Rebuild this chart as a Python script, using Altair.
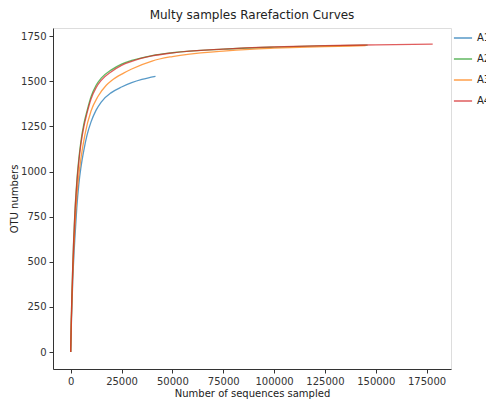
import altair as alt
import pandas as pd

samples = ["A1", "A2", "A3", "A4"]
colors = ["#1f77b4", "#2ca02c", "#ff7f0e", "#d62728"]

a1_x = [0, 250, 500, 1000, 2000, 3000, 4000, 5000, 6500, 8000, 10000, 12500, 15000, 20000, 25000, 30000, 35000, 41700]
a1_y = [0, 120, 220, 390, 620, 800, 930, 1020, 1120, 1200, 1275, 1340, 1385, 1437, 1468, 1492, 1510, 1527]

a2_x = [0, 250, 500, 1000, 2000, 3000, 4000, 5000, 6500, 8000, 10000, 12500, 15000, 20000, 25000, 30000, 40000, 50000, 75000, 100000, 125000, 146000]
a2_y = [0, 155, 280, 475, 760, 945, 1070, 1165, 1265, 1335, 1415, 1478, 1517, 1563, 1595, 1615, 1642, 1658, 1678, 1689, 1696, 1700]

a3_x = [0, 250, 500, 1000, 2000, 3000, 4000, 5000, 7000, 10000, 13300, 17500, 20000, 26000, 30000, 40000, 50000, 75000, 88000, 100000, 125000, 145000]
a3_y = [0, 135, 240, 420, 680, 860, 980, 1070, 1205, 1335, 1414, 1478, 1503, 1545, 1568, 1612, 1637, 1667, 1677, 1683, 1692, 1697]

a4_x = [0, 250, 500, 1000, 2000, 3000, 4000, 5000, 6500, 8000, 10000, 12500, 15000, 20000, 25000, 30000, 40000, 50000, 75000, 100000, 125000, 150000, 178000]
a4_y = [0, 150, 270, 465, 750, 930, 1055, 1150, 1250, 1322, 1402, 1465, 1505, 1553, 1588, 1610, 1640, 1657, 1678, 1690, 1697, 1702, 1706]

xs = [a1_x, a2_x, a3_x, a4_x]
ys = [a1_y, a2_y, a3_y, a4_y]

rows = []
for i, (s, xx, yy) in enumerate(zip(samples, xs, ys)):
    for j, (a, b) in enumerate(zip(xx, yy)):
        rows.append({"sample": s, "order": i, "idx": j, "x": a, "y": b})
df = pd.DataFrame(rows)

x_ticks = [0, 25000, 50000, 75000, 100000, 125000, 150000, 175000]
y_ticks = [0, 250, 500, 750, 1000, 1250, 1500, 1750]

font = "DejaVu Sans"

chart = alt.Chart(df).mark_line(strokeWidth=1.3, opacity=0.75, interpolate="monotone").encode(
    x=alt.X("x:Q", scale=alt.Scale(domain=[-8700, 187000], nice=False, zero=False),
            axis=alt.Axis(values=x_ticks, title="Number of sequences sampled", format="d",
                          grid=False, labelFontSize=10, titleFontSize=10, titleFontWeight="normal",
                          tickSize=4, labelPadding=3, titlePadding=2, domainColor="#333",
                          tickColor="#333", labelColor="#333", titleColor="#222", labelFont=font, titleFont=font)),
    y=alt.Y("y:Q", scale=alt.Scale(domain=[-94, 1795], nice=False, zero=False),
            axis=alt.Axis(values=y_ticks, title="OTU numbers", format="d",
                          grid=False, labelFontSize=10, titleFontSize=10, titleFontWeight="normal",
                          tickSize=4, labelPadding=3, titlePadding=1, domainColor="#333",
                          tickColor="#333", labelColor="#333", titleColor="#222", labelFont=font, titleFont=font)),
    color=alt.Color("sample:N", scale=alt.Scale(domain=samples, range=colors),
                    legend=alt.Legend(title=None, orient="none", legendX=400, legendY=0,
                                      symbolType="stroke", symbolSize=330, symbolStrokeWidth=1.5,
                                      labelFontSize=10, labelFont=font, labelColor="#222",
                                      labelOffset=4, padding=0,
                                      rowPadding=6, symbolOpacity=0.75)),
    detail="sample:N",
    order=alt.Order("idx:Q"),
).properties(
    width=398, height=341,
    title=alt.TitleParams("Multy samples Rarefaction Curves", fontSize=12, fontWeight="normal",
                          font=font, color="#222", offset=6),
    autosize=alt.AutoSizeParams(type="none"),
    padding={"left": 53, "top": 28, "right": 35, "bottom": 30},
).configure_view(stroke="#333", strokeWidth=1).configure(background="white")

chart.save("out.html", embed_options={"renderer": "svg", "actions": False})
